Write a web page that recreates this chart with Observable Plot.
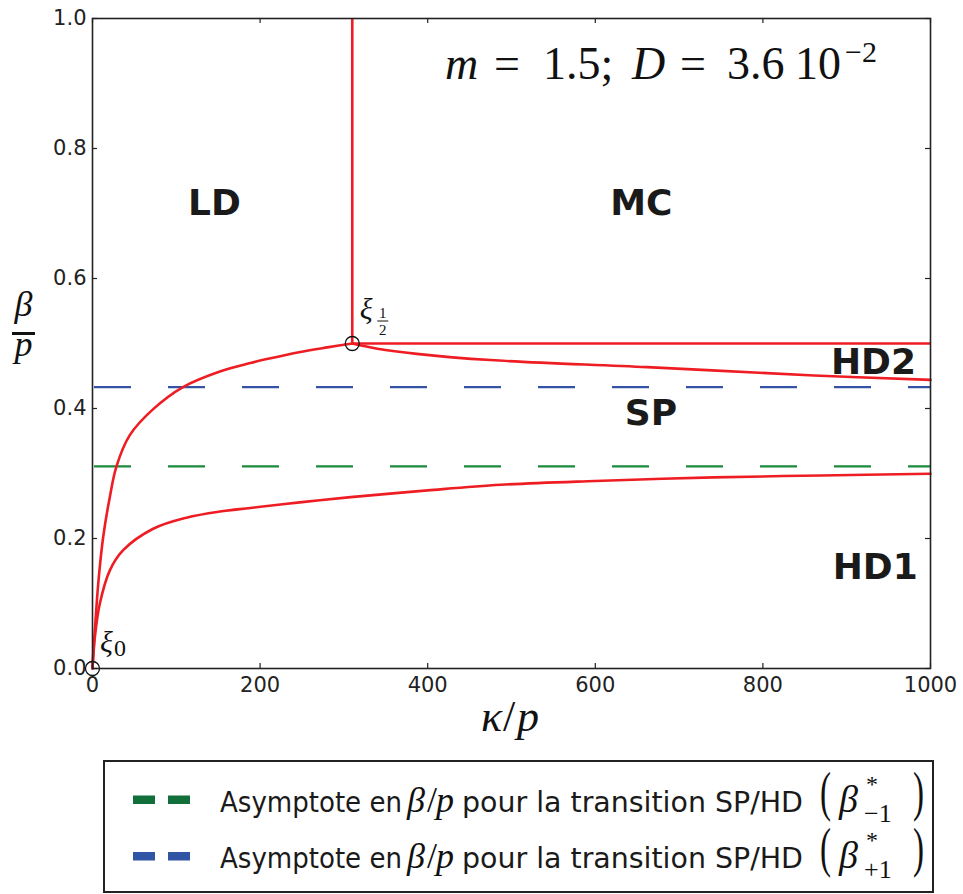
<!DOCTYPE html>
<html>
<head>
<meta charset="utf-8">
<script src="https://cdn.jsdelivr.net/npm/d3@7"></script>
<script src="https://cdn.jsdelivr.net/npm/@observablehq/plot@0.6"></script>
<style>
  html, body { margin: 0; padding: 0; background: #fff; }
  #chart svg, #legend svg { display: block; }
</style>
</head>
<body>
<div id="chart"></div>
<div id="legend"></div>
<script>
// ---- data ----
const xTicks = [0, 200, 400, 600, 800, 1000];
const yTicks = [0, 0.2, 0.4, 0.6, 0.8, 1.0];

// LD / SP boundary (from xi_0 to xi_1/2)
const upperKappa = [0, 1, 2.8, 6.8, 12.7, 20.7, 28.6, 44.5, 72.4, 108, 152, 188.5, 208, 248, 280, 310];
const upperBeta  = [0, 0.024, 0.058, 0.130, 0.202, 0.264, 0.311, 0.359, 0.399, 0.433, 0.457, 0.470, 0.476, 0.487, 0.494, 0.5];

// SP / HD1 boundary
const lowerKappa = [0, 1, 2.8, 8.7, 20.7, 36.6, 72.4, 112, 152, 188.5, 250, 308, 400, 487, 600, 741, 870, 1000];
const lowerBeta  = [0, 0.02, 0.048, 0.0995, 0.151, 0.182, 0.215, 0.232, 0.2415, 0.247, 0.256, 0.2636, 0.274, 0.2826, 0.2885, 0.294, 0.297, 0.2995];

// SP / HD2 boundary
const hd2Kappa = [310, 340, 387, 475, 662, 861, 1000];
const hd2Beta  = [0.5, 0.492, 0.4841, 0.4745, 0.4636, 0.4508, 0.444];

// critical point xi_1/2 and the straight boundaries
const criticalKappa = 310;
const criticalBeta = 0.5;
const kappaMax = 1000;
const betaMax = 1.0;

// special points
const pointNames = ["ξ0", "ξ1/2"];
const pointKappa = [0, 310];
const pointBeta  = [0, 0.5];

// asymptotes
const asymNames = ["β*−1", "β*+1"];
const asymBeta  = [0.311, 0.433];
const asymColors = ["#1a8a3c", "#3553a6"];
const legendColors = ["#136f3a", "#2f55a4"];
const legendSigns = ["−1", "+1"];

// region labels
const regionNames = ["LD", "MC", "SP", "HD2", "HD1"];
const regionKappa = [145.6, 655, 666.5, 932, 934];
const regionBeta  = [0.716, 0.716, 0.392, 0.471, 0.155];

const RED = "#ee1d23";
const INK = "#222";

const toPts = (ks, bs) => ks.map((k, i) => ({k, b: bs[i]}));
const upper = toPts(upperKappa, upperBeta);
const lower = toPts(lowerKappa, lowerBeta);
const hd2 = toPts(hd2Kappa, hd2Beta);
const points = pointNames.map((n, i) => ({n, k: pointKappa[i], b: pointBeta[i]}));
const regions = regionNames.map((n, i) => ({n, k: regionKappa[i], b: regionBeta[i]}));
const asyms = asymNames.map((n, i) => ({n, b: asymBeta[i], c: asymColors[i]}));

const W = 963, H = 750;
const mL = 92, mR = 33, mT = 18, mB = 82;
const innerW = W - mL - mR, innerH = H - mT - mB;
const tickLen = 5;

const plot = Plot.plot({
  width: W, height: H,
  marginLeft: mL, marginRight: mR, marginTop: mT, marginBottom: mB,
  x: {domain: [0, kappaMax], label: null},
  y: {domain: [0, betaMax], label: null},
  style: {fontFamily: "DejaVu Sans", fontSize: "21px", color: INK, background: "white", overflow: "visible"},
  marks: [
    // asymptotes
    Plot.ruleY(asyms, {y: "b", stroke: "c", strokeWidth: 2.3, strokeDasharray: "37,37", strokeDashoffset: -2}),
    // boundaries
    Plot.line(upper, {x: "k", y: "b", stroke: RED, strokeWidth: 2.6, curve: "catmull-rom"}),
    Plot.line(lower, {x: "k", y: "b", stroke: RED, strokeWidth: 2.6, curve: "catmull-rom"}),
    Plot.line(hd2, {x: "k", y: "b", stroke: RED, strokeWidth: 2.6, curve: "catmull-rom"}),
    Plot.ruleY([criticalBeta], {y: d => d, x1: criticalKappa, x2: kappaMax, stroke: RED, strokeWidth: 2.6}),
    Plot.ruleX([criticalKappa], {x: d => d, y1: criticalBeta, y2: betaMax, stroke: RED, strokeWidth: 2.6}),
    // special points
    Plot.dot(points, {x: "k", y: "b", r: 7, stroke: "#111", strokeWidth: 1.3, fill: "none"}),
    // region labels
    Plot.text(regions, {x: "k", y: "b", text: "n", fontSize: 36, fontWeight: "bold", fill: "#1a1a1a", fontFamily: "DejaVu Sans"}),
    // frame
    Plot.frame({stroke: INK, strokeWidth: 1.6}),
    // inside ticks on all four sides
    Plot.tickX(xTicks, {x: d => d, insetTop: innerH - tickLen, stroke: INK, strokeWidth: 1.2}),
    Plot.tickX(xTicks, {x: d => d, insetBottom: innerH - tickLen, stroke: INK, strokeWidth: 1.2}),
    Plot.tickY(yTicks, {y: d => d, insetRight: innerW - tickLen, stroke: INK, strokeWidth: 1.2}),
    Plot.tickY(yTicks, {y: d => d, insetLeft: innerW - tickLen, stroke: INK, strokeWidth: 1.2}),
    // tick labels
    Plot.axisX(xTicks, {tickSize: 0, tickPadding: 9, fontSize: 21, tickFormat: d => String(d), label: null}),
    Plot.axisY(yTicks, {tickSize: 0, tickPadding: 6, fontSize: 21, tickFormat: d3.format(".1f"), label: null})
  ]
});
document.getElementById("chart").appendChild(plot);

// ---- math annotations ----
const svg = d3.select(plot);
const sx = plot.scale("x").apply, sy = plot.scale("y").apply;
const SERIF = "'Liberation Serif', 'DejaVu Serif', serif";

function txt(g, s, x, y, size, italic, anchor) {
  return g.append("text").attr("x", x).attr("y", y)
    .attr("font-family", SERIF).attr("font-size", size)
    .attr("font-style", italic ? "italic" : "normal")
    .attr("fill", "#111").attr("text-anchor", anchor || "start").text(s);
}
const ann = svg.append("g");

// xi_0
const p0x = sx(pointKappa[0]), p0y = sy(pointBeta[0]);
txt(ann, "ξ", p0x + 8, p0y - 16, 30, true);
txt(ann, "0", p0x + 22, p0y - 12, 24, false);

// xi_1/2
const p1x = sx(pointKappa[1]), p1y = sy(pointBeta[1]);
txt(ann, "ξ", p1x + 8, p1y - 24, 30, true);
txt(ann, "1", p1x + 31, p1y - 25, 15, false, "middle");
ann.append("line").attr("x1", p1x + 25.5).attr("x2", p1x + 36.5).attr("y1", p1y - 22).attr("y2", p1y - 22)
  .attr("stroke", "#111").attr("stroke-width", 1);
txt(ann, "2", p1x + 31, p1y - 8, 15, false, "middle");

// parameter text  m = 1.5;  D = 3.6 10^-2
const paramParts = [
  {s: "m", x: 445, it: true},
  {s: "=", x: 494},
  {s: "1.5;", x: 543},
  {s: "D", x: 632, it: true},
  {s: "=", x: 680},
  {s: "3.6", x: 727},
  {s: "10", x: 795}
];
paramParts.forEach(p => txt(ann, p.s, p.x, 79, 46, p.it));
txt(ann, "−2", 845, 62, 30, false);

// axis labels
txt(ann, "κ", 481, 731, 44, true);
txt(ann, "/", 503, 731, 44, false);
txt(ann, "p", 517, 731, 44, true);

txt(ann, "β", 23.5, 316, 36, true, "middle");
ann.append("line").attr("x1", 12).attr("x2", 35).attr("y1", 333.5).attr("y2", 333.5)
  .attr("stroke", "#111").attr("stroke-width", 3);
txt(ann, "p", 23.5, 356, 36, true, "middle");

// ---- legend (below the chart) ----
const LH = 894 - H;
const leg = d3.select("#legend").append("svg").attr("width", W).attr("height", LH);
leg.append("rect").attr("x", 104).attr("y", 11).attr("width", 829).attr("height", 131)
  .attr("fill", "white").attr("stroke", INK).attr("stroke-width", 2);

const SANS = "'DejaVu Sans Condensed', 'DejaVu Sans', sans-serif";
legendColors.forEach((c, i) => {
  const base = 61.5 + i * 56.5;
  const midY = base - 12;
  leg.append("rect").attr("x", 133).attr("y", midY - 4).attr("width", 22).attr("height", 8.5).attr("fill", c);
  leg.append("rect").attr("x", 168).attr("y", midY - 4).attr("width", 22).attr("height", 8.5).attr("fill", c);
  leg.append("text").attr("x", 220).attr("y", base).attr("font-family", SANS).attr("font-size", 29)
    .attr("font-stretch", "condensed").attr("fill", "#1a1a1a")
    .attr("textLength", 182).attr("lengthAdjust", "spacingAndGlyphs").text("Asymptote en");
  txt(leg, "β", 407, base, 36, true);
  txt(leg, "/", 427, base, 36, false);
  txt(leg, "p", 436, base, 36, true);
  leg.append("text").attr("x", 462).attr("y", base).attr("font-family", SANS).attr("font-size", 29)
    .attr("font-stretch", "condensed").attr("fill", "#1a1a1a")
    .attr("textLength", 341).attr("lengthAdjust", "spacingAndGlyphs").text("pour la transition SP/HD");
  txt(leg, "(", 820, base - 2, 54, false).attr("textLength", 11).attr("lengthAdjust", "spacingAndGlyphs");
  txt(leg, "β", 839, base, 38, true);
  txt(leg, "*", 866, base - 20, 24, false);
  txt(leg, legendSigns[i], 864, base + 10, 26, false);
  txt(leg, ")", 913, base - 2, 54, false).attr("textLength", 11).attr("lengthAdjust", "spacingAndGlyphs");
});
</script>
</body>
</html>
